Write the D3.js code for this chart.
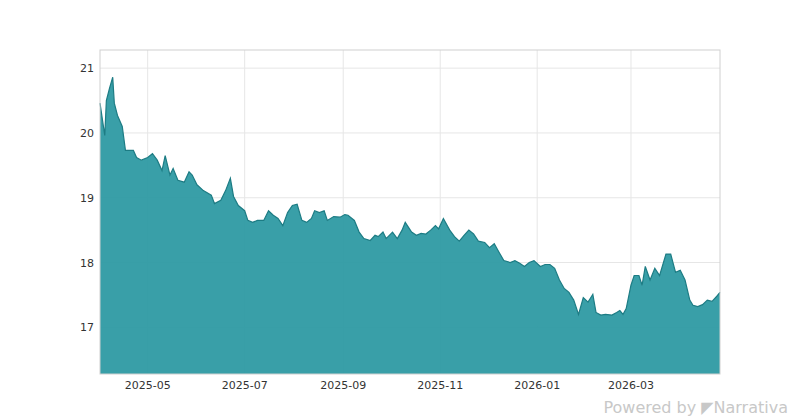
<!DOCTYPE html>
<html>
<head>
<meta charset="utf-8">
<script src="https://cdn.jsdelivr.net/npm/d3@7"></script>
<style>
  body { margin: 0; background: #fff; font-family: "DejaVu Sans", sans-serif; }
</style>
</head>
<body>
<svg id="chart" width="800" height="420"></svg>
<script>
var dates = ["2025-04-01","2025-04-04","2025-04-05","2025-04-07","2025-04-09","2025-04-10","2025-04-12","2025-04-15","2025-04-17","2025-04-22",
  "2025-04-24","2025-04-27","2025-05-01","2025-05-04","2025-05-07","2025-05-10","2025-05-12","2025-05-15","2025-05-17","2025-05-20",
  "2025-05-24","2025-05-27","2025-05-29","2025-06-01","2025-06-05","2025-06-10","2025-06-12","2025-06-16","2025-06-19","2025-06-22",
  "2025-06-24","2025-06-27","2025-07-01","2025-07-03","2025-07-06","2025-07-09","2025-07-13","2025-07-16","2025-07-19","2025-07-22",
  "2025-07-25","2025-07-28","2025-07-31","2025-08-03","2025-08-06","2025-08-09","2025-08-12","2025-08-14","2025-08-17","2025-08-20",
  "2025-08-22","2025-08-26","2025-08-30","2025-09-02","2025-09-04","2025-09-08","2025-09-11","2025-09-14","2025-09-18","2025-09-21",
  "2025-09-23","2025-09-26","2025-09-28","2025-10-02","2025-10-05","2025-10-08","2025-10-10","2025-10-14","2025-10-17","2025-10-20",
  "2025-10-23","2025-10-26","2025-10-29","2025-10-31","2025-11-03","2025-11-07","2025-11-10","2025-11-13","2025-11-16","2025-11-19",
  "2025-11-22","2025-11-25","2025-11-29","2025-12-02","2025-12-05","2025-12-08","2025-12-11","2025-12-15","2025-12-18","2025-12-21",
  "2025-12-24","2025-12-27","2025-12-30","2026-01-03","2026-01-06","2026-01-09","2026-01-12","2026-01-15","2026-01-18","2026-01-21",
  "2026-01-24","2026-01-27","2026-01-30","2026-02-02","2026-02-05","2026-02-07","2026-02-10","2026-02-13","2026-02-17","2026-02-20",
  "2026-02-22","2026-02-24","2026-02-26","2026-03-01","2026-03-03","2026-03-06","2026-03-08","2026-03-10","2026-03-13","2026-03-16",
  "2026-03-19","2026-03-23","2026-03-26","2026-03-29","2026-04-01","2026-04-04","2026-04-07","2026-04-09","2026-04-12","2026-04-15",
  "2026-04-18","2026-04-21","2026-04-24","2026-04-26"];
var values = [20.46,19.96,20.5,20.69,20.86,20.46,20.27,20.1,19.73,19.73,
  19.62,19.58,19.62,19.68,19.58,19.42,19.65,19.35,19.45,19.27,
  19.24,19.4,19.35,19.2,19.11,19.04,18.91,18.96,19.11,19.3,
  19.02,18.88,18.8,18.65,18.62,18.65,18.65,18.8,18.73,18.68,
  18.57,18.77,18.88,18.9,18.65,18.62,18.68,18.8,18.77,18.8,
  18.65,18.71,18.7,18.74,18.73,18.65,18.47,18.37,18.34,18.42,
  18.4,18.47,18.37,18.47,18.37,18.5,18.62,18.47,18.42,18.45,
  18.44,18.5,18.57,18.52,18.68,18.5,18.4,18.33,18.42,18.5,
  18.44,18.33,18.31,18.23,18.29,18.16,18.03,18.0,18.03,17.99,
  17.94,18.0,18.03,17.94,17.97,17.97,17.91,17.73,17.6,17.54,
  17.42,17.2,17.46,17.39,17.51,17.23,17.19,17.2,17.19,17.23,
  17.26,17.2,17.29,17.65,17.8,17.8,17.65,17.94,17.73,17.91,
  17.8,18.13,18.13,17.85,17.88,17.73,17.42,17.34,17.32,17.35,
  17.42,17.4,17.48,17.54];
var yTicks = [17, 18, 19, 20, 21];
var xTickDates = ["2025-05-01","2025-07-01","2025-09-01","2025-11-01","2026-01-01","2026-03-01"];

var parse = d3.timeParse("%Y-%m-%d");
var data = dates.map(function(d, i) { return { date: parse(d), value: values[i] }; });

var svg = d3.select("#chart");
var plotLeft = 100, plotRight = 720, plotTop = 50, plotBottom = 374;

var x = d3.scaleTime()
    .domain([parse("2025-04-01"), parse("2026-04-26")])
    .range([plotLeft, plotRight]);
var y = d3.scaleLinear().domain([16.28, 21.28]).range([plotBottom, plotTop]);

// grid
svg.append("g").selectAll("line").data(yTicks).enter().append("line")
    .attr("x1", plotLeft).attr("x2", plotRight)
    .attr("y1", function(d) { return y(d); }).attr("y2", function(d) { return y(d); })
    .attr("stroke", "#e6e6e6");
svg.append("g").selectAll("line").data(xTickDates).enter().append("line")
    .attr("y1", plotTop).attr("y2", plotBottom)
    .attr("x1", function(d) { return x(parse(d)); }).attr("x2", function(d) { return x(parse(d)); })
    .attr("stroke", "#e6e6e6");

var area = d3.area()
    .x(function(d) { return x(d.date); })
    .y0(plotBottom)
    .y1(function(d) { return y(d.value); });
var line = d3.line()
    .x(function(d) { return x(d.date); })
    .y(function(d) { return y(d.value); });

svg.append("path").datum(data).attr("d", area).attr("fill", "#2e9aa3").attr("opacity", 0.95);
svg.append("path").datum(data).attr("d", line).attr("fill", "none").attr("stroke", "#1d7c84").attr("stroke-width", 1.2);

svg.append("rect").attr("x", plotLeft).attr("y", plotTop)
    .attr("width", plotRight - plotLeft).attr("height", plotBottom - plotTop)
    .attr("fill", "none").attr("stroke", "#d0d0d0");

// axes
svg.append("g").selectAll("text").data(yTicks).enter().append("text")
    .attr("x", plotLeft - 6).attr("y", function(d) { return y(d) + 4; })
    .attr("text-anchor", "end").attr("font-size", 11).attr("fill", "#333")
    .text(function(d) { return d; });
var fmt = d3.timeFormat("%Y-%m");
svg.append("g").selectAll("text").data(xTickDates).enter().append("text")
    .attr("x", function(d) { return x(parse(d)); }).attr("y", plotBottom + 15)
    .attr("text-anchor", "middle").attr("font-size", 11).attr("fill", "#333")
    .text(function(d) { return fmt(parse(d)); });

svg.append("text").attr("x", 788).attr("y", 413).attr("text-anchor", "end")
    .attr("font-size", 16).attr("fill", "#c8c8c8")
    .text("Powered by  \u25E4Narrativa");
</script>
</body>
</html>
